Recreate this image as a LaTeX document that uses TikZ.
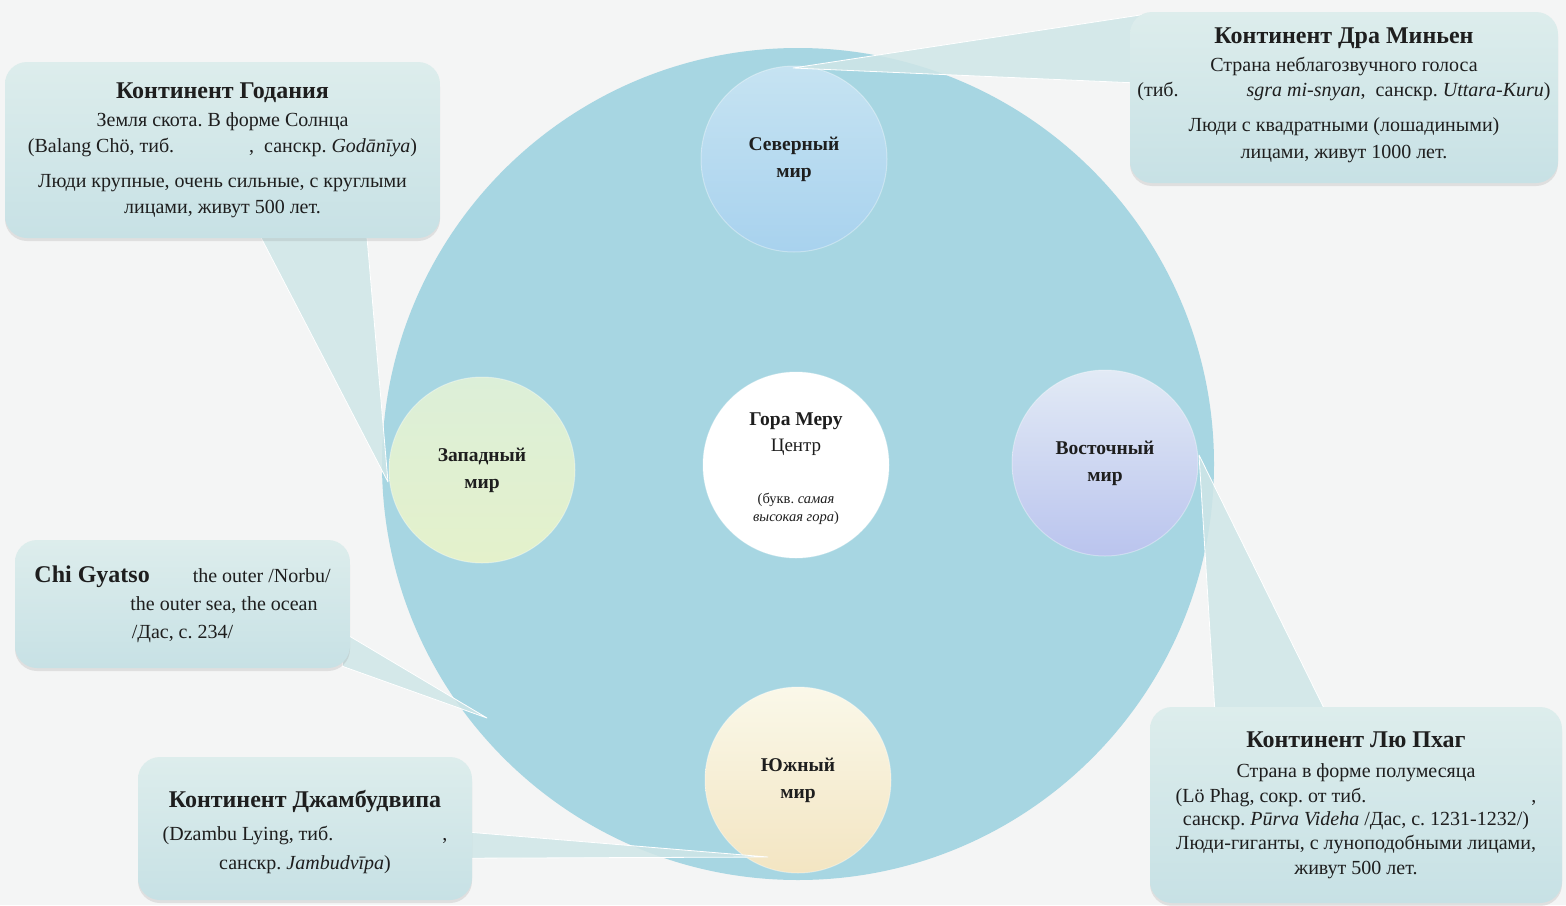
\documentclass[tikz,border=0pt]{standalone}
\usepackage{fontspec}
\usepackage{graphicx}
\setmainfont{Liberation Serif}
\frenchspacing
% Tibetan: no installed family has these glyphs; keep text, fit to the reference width
\newcommand\tib[2]{\resizebox{#1}{!}{#2}}
\usetikzlibrary{calc,shadows}
\pgfdeclarelayer{bg}
\pgfdeclarelayer{mid}
\pgfsetlayers{bg,mid,main}
\definecolor{pagebg}{HTML}{F4F5F5}
\definecolor{ocean}{HTML}{A7D6E2}
\definecolor{boxtop}{HTML}{DDEDEC}
\definecolor{boxbot}{HTML}{C7E1E5}
\definecolor{ptrcol}{HTML}{CFE6E7}
\definecolor{txt}{HTML}{1E1E1E}
\definecolor{ntop}{HTML}{C6E3F2}
\definecolor{nbot}{HTML}{A8D2EE}
\definecolor{wtop}{HTML}{DCEFD8}
\definecolor{wbot}{HTML}{E4F1CB}
\definecolor{etop}{HTML}{E2EAF5}
\definecolor{ebot}{HTML}{BAC4EE}
\definecolor{stop}{HTML}{FAF8E9}
\definecolor{sbot}{HTML}{F3E5C2}
\tikzset{
  callout/.style={rounded corners=22pt, top color=boxtop, bottom color=boxbot, draw=none,
    align=center, text=txt, inner sep=0pt,
    drop shadow={opacity=0.18, shadow xshift=0pt, shadow yshift=-3pt},
    font=\fontsize{20}{26}\selectfont},
  callouttext/.style={align=center, text=txt, inner sep=0pt, font=\fontsize{20}{26}\selectfont},
  pointer/.style={fill=ptrcol, fill opacity=0.85, draw=white, line width=0.8pt, line join=round},
  world/.style={circle, draw=white, draw opacity=0.35, line width=1pt, inner sep=0pt, minimum size=186pt, align=center, text=txt,
    font=\fontsize{19.5}{27}\selectfont\bfseries}
}
\newcommand\ttl[1]{{\fontsize{24}{26}\selectfont\bfseries #1}}
\begin{document}
\begin{tikzpicture}[x=1pt,y=-1pt]
\begin{pgfonlayer}{bg}
\fill[pagebg] (0,0) rectangle (1566,905);
\node[circle, fill=ocean, minimum size=832pt, inner sep=0pt] (ocean) at (798,464) {};
\node[world, top color=ntop, bottom color=nbot] (north) at (794,159) {Северный\\мир};
\node[world, top color=wtop, bottom color=wbot] (west) at (482,470) {Западный\\мир};
\node[world, top color=etop, bottom color=ebot] (east) at (1105,463) {Восточный\\мир};
\node[world, top color=stop, bottom color=sbot] (south) at (798,780) {Южный\\мир};
\node[world, fill=white] (meru) at (796,465) {};
\node[align=center, text=txt, inner sep=0pt, font=\fontsize{19}{26}\selectfont] (merutext) at (796,469) {%
  {\fontsize{19.5}{26}\selectfont\bfseries Гора Меру}\\
  Центр\\
  {\fontsize{15}{22}\selectfont\tib{72pt}{རི་རབ་ལྷུན་པོ}}\\
  {\fontsize{14.5}{18}\selectfont (букв. \textit{самая}}\\[-8pt]
  {\fontsize{14.5}{18}\selectfont \textit{высокая гора})}};
\end{pgfonlayer}
\useasboundingbox (0,0) rectangle (1566,905);

% callout boxes
\node[callout, minimum width=435pt, minimum height=176pt] (bG) at (222.5,150) {%
  \ttl{Континент Годания}\\[2pt]
  Земля скота. В форме Солнца\\
  (Balang Chö, тиб. \tib{70pt}{བ་ལང་སྤྱོད}, \ санскр. \textit{Godānīya})\\[9pt]
  Люди крупные, очень сильные, с круглыми\\
  лицами, живут 500 лет.};
\node[callout, minimum width=428pt, minimum height=171pt] (bD) at (1344,97.5) {};
\node[callouttext] (tD) at (1344,95.5) {%
  \ttl{Континент Дра Миньен}\\[2pt]
  Страна неблагозвучного голоса\\[-1pt]
  (тиб. \tib{58pt}{སྒྲ་མི་སྙན} \textit{sgra mi-snyan}, \ санскр. \textit{Uttara-Kuru})\\[9pt]
  Люди с квадратными (лошадиными)\\[1pt]
  лицами, живут 1000 лет.};
\node[callout, minimum width=335pt, minimum height=128pt] (bC) at (182.5,604) {%
  \ttl{Chi Gyatso} \tib{33pt}{ཕྱིའི་} the outer /Norbu/\\[2pt]
  \tib{78pt}{ཕྱི་ཡི་རྒྱ་མཚོ} the outer sea, the ocean\\[2pt]
  /Дас, с. 234/};
\node[callout, minimum width=334pt, minimum height=143pt] (bJ) at (305,828.5) {};
\node[callouttext] (tJ) at (305,832) {%
  \ttl{Континент Джамбудвипа}\\[7pt]
  (Dzambu Lying, тиб. \tib{104pt}{འཛམ་བུའི་གླིང},\\[3pt]
  санскр. \textit{Jambudvīpa})};
\node[callout, minimum width=412pt, minimum height=196pt, font=\fontsize{20}{24}\selectfont] (bL) at (1356,805) {%
  \ttl{Континент Лю Пхаг}\\[6pt]
  Страна в форме полумесяца\\[1pt]
  (Lö Phag, сокр. от тиб. \tib{160pt}{ཤར་ལུས་འཕགས་པ},\\[-1pt]
  санскр. \textit{Pūrva Videha} /Дас, с. 1231-1232/)\\
  Люди-гиганты, с луноподобными лицами,\\[1pt]
  живут 500 лет.};

% pointer tips
\coordinate (tipG) at (388,482);
\coordinate (tipD) at (793,68);
\coordinate (tipC) at (487,718);
\coordinate (tipJ) at (768,857);
\coordinate (tipL) at (1199,455);

\begin{pgfonlayer}{mid}
\draw[pointer] ($(bG.south west)+(255,-3)$) -- (tipG) -- ($(bG.south west)+(362,-3)$) -- cycle;
\draw[pointer] ($(bD.north west)+(12,3)$) -- (tipD) -- ($(bD.north west)+(3,71)$) -- cycle;
\draw[pointer] ($(bC.south east)+(-4,-34)$) -- (tipC) -- ($(bC.south east)+(-8,-2)$) -- cycle;
\draw[pointer] ($(bJ.south east)+(-3,-68)$) -- (tipJ) -- ($(bJ.south east)+(-3,-42)$) -- cycle;
\draw[pointer] ($(bL.north west)+(65,3)$) -- (tipL) -- ($(bL.north west)+(175,3)$) -- cycle;
\end{pgfonlayer}
\end{tikzpicture}
\end{document}
